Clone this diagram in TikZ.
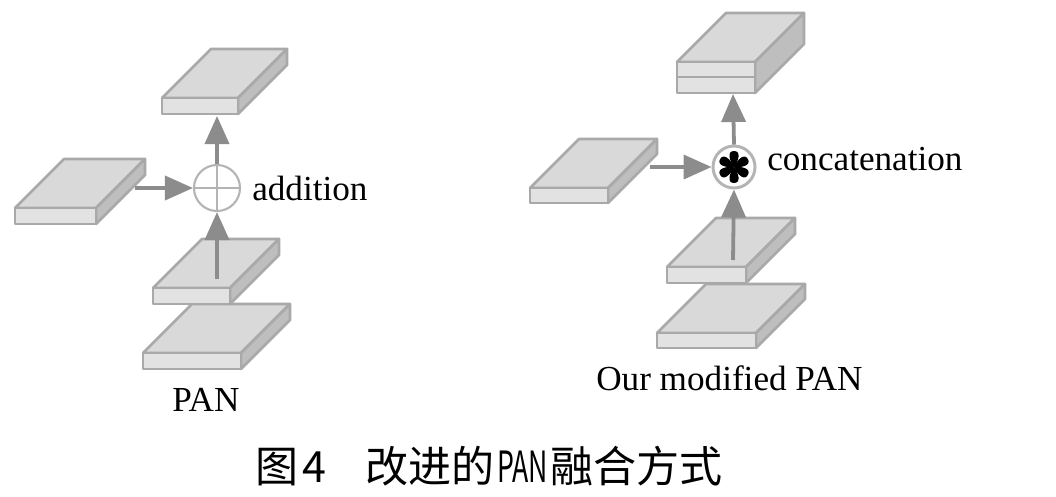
\documentclass[tikz,border=0pt]{standalone}
\usepackage{fontspec}
\setmainfont{Liberation Serif}
\newfontfamily\cjk{Noto Sans CJK SC}
\usetikzlibrary{arrows.meta,calc}

\definecolor{edgegray}{HTML}{A9A9A9}
\definecolor{facetop}{HTML}{D9D9D9}
\definecolor{facefront}{HTML}{E2E2E2}
\definecolor{faceside}{HTML}{BEBEBE}
\definecolor{arrowgray}{HTML}{8C8C8C}
\definecolor{ringgray}{HTML}{B4B4B4}

\tikzset{
  slabtop/.style={fill=facetop, draw=edgegray, line width=1.9pt, line join=round},
  slabside/.style={fill=faceside, draw=edgegray, line width=1.9pt, line join=round},
  slabfront/.style={fill=facefront, draw=edgegray, line width=1.9pt, line join=round},
  flow/.style={draw=arrowgray, line width=2.7pt, -{Triangle[length=0.7cm, width=0.6cm]}},
  opnode/.style={circle, draw=ringgray, fill=white, inner sep=0pt},
  lbl/.style={font=\fontsize{25}{30}\selectfont, inner sep=0pt, anchor=base west},
  figcap/.style={font=\cjk\fontsize{30.6}{36}\selectfont, inner sep=0pt, anchor=base west}
}

% one feature map: name, x, y (front top left), width, height
\newcommand{\slab}[5]{%
  \coordinate (#1) at (#2,#3);
  \filldraw[slabtop] (#1) -- ++(49,-49) -- ++(#4,0) -- ++(-49,49) -- cycle;
  \filldraw[slabside] ($(#1)+(#4,0)$) -- ++(49,-49) -- ++(0,#5) -- ++(-49,49) -- cycle;
  \filldraw[slabfront] (#1) rectangle ++(#4,#5);
}

\begin{document}
\begin{tikzpicture}[x=0.025cm, y=-0.025cm]
  \useasboundingbox (0,0) rectangle (1056,496);
  \fill[white] (0,0) rectangle (1056,496);

  % PAN
  \slab{Lout}{162}{98}{76}{16}
  \slab{Llat}{15}{208}{81}{16}
  \slab{Lin2}{143}{353}{98}{16}
  \slab{Lin1}{153}{288}{77}{16}

  \node[opnode, minimum size=1.15cm, line width=1.5pt] (Lop) at (217,188) {};
  \draw[ringgray, line width=1.5pt] (Lop.north) -- (Lop.south) (Lop.west) -- (Lop.east);

  \coordinate (Lup) at (217,116);
  \coordinate (Lleft) at (135,188);
  \coordinate (Ldown) at (217,279);
  \draw[flow] (Lop.north) -- (Lup);
  \draw[flow] (Lleft) -- (Lop.west);
  \draw[flow] (Ldown) -- (Lop.south);

  \node[lbl] (addlbl) at (252,200) {addition};
  \node[lbl] (panlbl) at (172,411) {PAN};

  % Our modified PAN
  \slab{Rout}{677}{62}{78}{31}
  \draw[edgegray, line width=1.9pt] ($(Rout)+(0,15)$) -- ++(78,0);
  \slab{Rlat}{530}{188}{78}{15}
  \slab{Rin2}{657}{333}{99}{15}
  \slab{Rin1}{667}{267}{79}{16}

  \node[opnode, minimum size=1.05cm, line width=2.1pt] (Rop) at (734,167) {};
  \foreach \a in {0,60,...,300}
    \fill[black, shift={(Rop.center)}, rotate=\a]
      (0,0) .. controls (4.5,-6) and (7.5,-16) .. (0,-16)
            .. controls (-7.5,-16) and (-4.5,-6) .. (0,0);

  \coordinate (Rup) at (733,94);
  \coordinate (Rleft) at (650,167);
  \coordinate (Rdown) at (733,260);
  \draw[flow] (Rop.north) -- (Rup);
  \draw[flow] (Rleft) -- (Rop.west);
  \draw[flow] (Rdown) -- (Rop.south);

  \node[lbl] (catlbl) at (767,170) {concatenation};
  \node[lbl] (ourlbl) at (596,390) {Our modified PAN};

  % caption
  \node[figcap] (fignum) at (255,482) {图\kern3pt 4};
  \node[figcap] (figtxt) at (365,482) {改进的};
  \node[figcap] (figpan) at (497,482) {\scalebox{0.62}[1]{PAN}};
  \node[figcap] (figend) at (550,482) {融合方式};
\end{tikzpicture}
\end{document}
